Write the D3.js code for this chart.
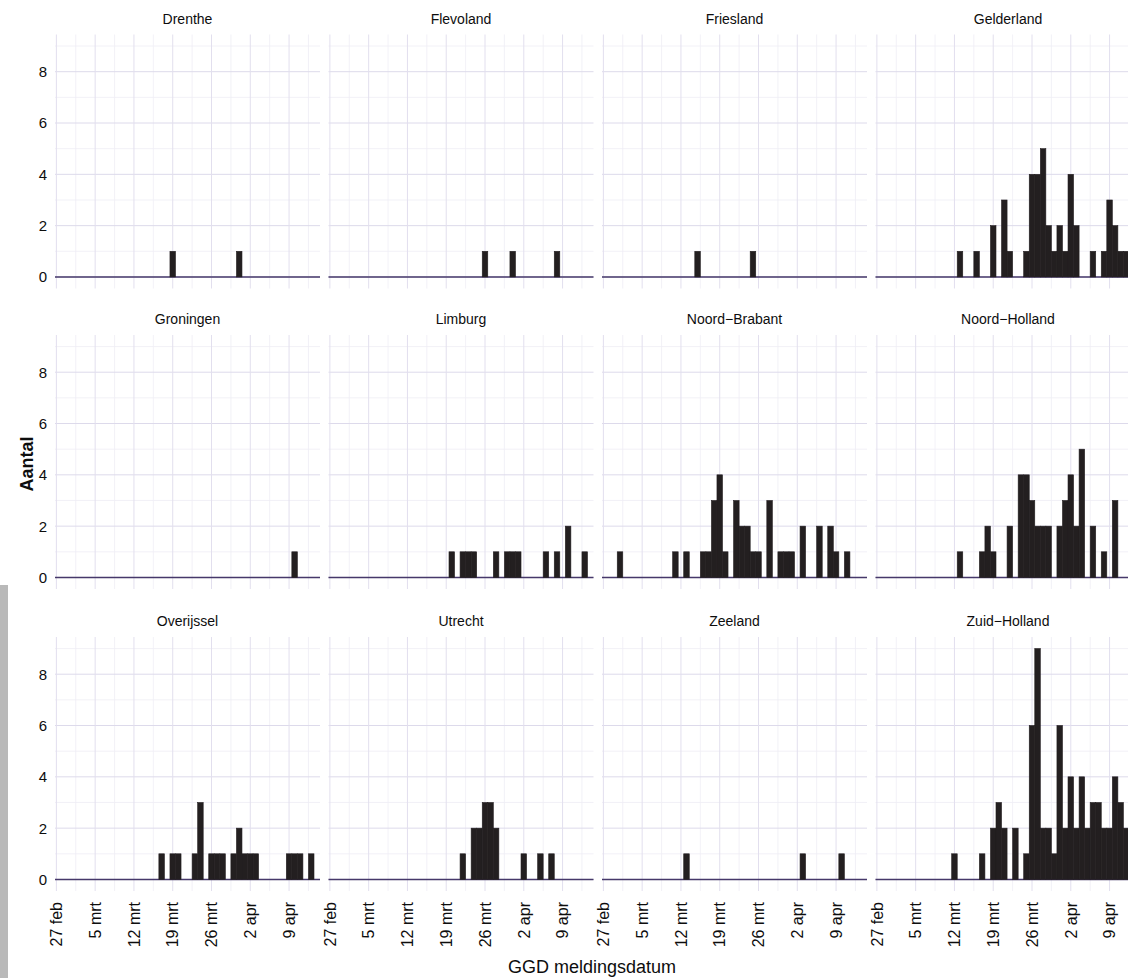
<!DOCTYPE html>
<html><head><meta charset="utf-8">
<script src="https://cdn.jsdelivr.net/npm/d3@7"></script>
<style>
body{margin:0;background:#fff;}
text{font-family:"Liberation Sans", Arial, Helvetica, sans-serif;fill:#0d0d0d;}
</style>
</head><body>
<svg id="chart" width="1128" height="978"></svg>
<script>
// ---------- data ----------
const regions = ["Drenthe","Flevoland","Friesland","Gelderland","Groningen","Limburg","Noord\u2212Brabant","Noord\u2212Holland","Overijssel","Utrecht","Zeeland","Zuid\u2212Holland"];

const drenthe = [["2020-03-19",1],["2020-03-31",1]];
const flevoland = [["2020-03-26",1],["2020-03-31",1],["2020-04-08",1]];
const friesland = [["2020-03-15",1],["2020-03-25",1]];
const gelderland = [["2020-03-13",1],["2020-03-16",1],["2020-03-19",2],["2020-03-21",3],["2020-03-22",1],["2020-03-25",1],["2020-03-26",4],["2020-03-27",4],["2020-03-28",5],["2020-03-29",2],["2020-03-30",1],["2020-03-31",2],["2020-04-01",1],["2020-04-02",4],["2020-04-03",2],["2020-04-06",1],["2020-04-08",1],["2020-04-09",3],["2020-04-10",2],["2020-04-11",1],["2020-04-12",1]];
const groningen = [["2020-04-10",1]];
const limburg = [["2020-03-20",1],["2020-03-22",1],["2020-03-23",1],["2020-03-24",1],["2020-03-28",1],["2020-03-30",1],["2020-03-31",1],["2020-04-01",1],["2020-04-06",1],["2020-04-08",1],["2020-04-10",2],["2020-04-13",1]];
const noordBrabant = [["2020-03-01",1],["2020-03-11",1],["2020-03-13",1],["2020-03-16",1],["2020-03-17",1],["2020-03-18",3],["2020-03-19",4],["2020-03-20",1],["2020-03-22",3],["2020-03-23",2],["2020-03-24",2],["2020-03-25",1],["2020-03-26",1],["2020-03-28",3],["2020-03-30",1],["2020-03-31",1],["2020-04-01",1],["2020-04-03",2],["2020-04-06",2],["2020-04-08",2],["2020-04-09",1],["2020-04-11",1]];
const noordHolland = [["2020-03-13",1],["2020-03-17",1],["2020-03-18",2],["2020-03-19",1],["2020-03-22",2],["2020-03-24",4],["2020-03-25",4],["2020-03-26",3],["2020-03-27",2],["2020-03-28",2],["2020-03-29",2],["2020-03-31",2],["2020-04-01",3],["2020-04-02",4],["2020-04-03",2],["2020-04-04",5],["2020-04-06",2],["2020-04-08",1],["2020-04-10",3]];
const overijssel = [["2020-03-17",1],["2020-03-19",1],["2020-03-20",1],["2020-03-23",1],["2020-03-24",3],["2020-03-26",1],["2020-03-27",1],["2020-03-28",1],["2020-03-30",1],["2020-03-31",2],["2020-04-01",1],["2020-04-02",1],["2020-04-03",1],["2020-04-09",1],["2020-04-10",1],["2020-04-11",1],["2020-04-13",1]];
const utrecht = [["2020-03-22",1],["2020-03-24",2],["2020-03-25",2],["2020-03-26",3],["2020-03-27",3],["2020-03-28",2],["2020-04-02",1],["2020-04-05",1],["2020-04-07",1]];
const zeeland = [["2020-03-13",1],["2020-04-03",1],["2020-04-10",1]];
const zuidHolland = [["2020-03-12",1],["2020-03-17",1],["2020-03-19",2],["2020-03-20",3],["2020-03-21",2],["2020-03-23",2],["2020-03-25",1],["2020-03-26",6],["2020-03-27",9],["2020-03-28",2],["2020-03-29",2],["2020-03-30",1],["2020-03-31",6],["2020-04-01",2],["2020-04-02",4],["2020-04-03",2],["2020-04-04",4],["2020-04-05",2],["2020-04-06",3],["2020-04-07",3],["2020-04-08",2],["2020-04-09",2],["2020-04-10",4],["2020-04-11",3],["2020-04-12",2]];

const series = [drenthe, flevoland, friesland, gelderland, groningen, limburg, noordBrabant, noordHolland, overijssel, utrecht, zeeland, zuidHolland];

const tickDates = ["2020-02-27","2020-03-05","2020-03-12","2020-03-19","2020-03-26","2020-04-02","2020-04-09"];
const tickLabels = ["27 feb","5 mrt","12 mrt","19 mrt","26 mrt","2 apr","9 apr"];
const yTicks = [0,2,4,6,8];
const yMinor = [1,3,5,7,9];

// ---------- layout ----------
const parse = d3.utcParse("%Y-%m-%d");
const W = 265, H = 254;
const colLeft = i => 55 + i*273.5;
const rowTops = [34.5, 335, 637];
const HALF = 12*3600*1000;

const svg = d3.select("#chart");
svg.append("rect").attr("width",1128).attr("height",978).attr("fill","#fff");
svg.append("rect").attr("x",0).attr("y",585).attr("width",8).attr("height",393).attr("fill","#b9b9b9");

const x = d3.scaleUtc()
  .domain([new Date(Date.UTC(2020,1,26,18)), new Date(Date.UTC(2020,3,14,14))])
  .range([0, W]);

const tickD = tickDates.map(parse);
const minorD = tickD.map(d => new Date(+d + 3.5*24*3600*1000)).filter(d => x(d) <= W);

series.forEach((data, i) => {
  const col = i % 4, row = Math.floor(i/4);
  const top = rowTops[row];
  const g = svg.append("g").attr("transform", `translate(${colLeft(col)},${top})`);
  const y = d3.scaleLinear().domain([-0.45, 9.45]).range([H, 0]);

  // minor grid
  g.selectAll(".hm").data(yMinor).join("line")
    .attr("x1",0).attr("x2",W).attr("y1",d=>y(d)).attr("y2",d=>y(d))
    .attr("stroke","#efedf5").attr("stroke-width",0.8);
  g.selectAll(".vm").data(minorD).join("line")
    .attr("y1",0).attr("y2",H).attr("x1",d=>x(d)).attr("x2",d=>x(d))
    .attr("stroke","#efedf5").attr("stroke-width",0.8);
  // major grid
  g.selectAll(".hM").data(yTicks).join("line")
    .attr("x1",0).attr("x2",W).attr("y1",d=>y(d)).attr("y2",d=>y(d))
    .attr("stroke","#dddaeb").attr("stroke-width",1);
  g.selectAll(".vM").data(tickD).join("line")
    .attr("y1",0).attr("y2",H).attr("x1",d=>x(d)).attr("x2",d=>x(d))
    .attr("stroke","#e2dfee").attr("stroke-width",1);

  // zero line
  g.append("line").attr("x1",0).attr("x2",W).attr("y1",y(0)).attr("y2",y(0))
    .attr("stroke","#46386a").attr("stroke-width",1.6);

  // bars
  g.selectAll(".bar").data(data).join("rect")
    .attr("x", d => x(new Date(+parse(d[0]) - HALF)))
    .attr("width", d => x(new Date(+parse(d[0]) + HALF)) - x(new Date(+parse(d[0]) - HALF)))
    .attr("y", d => y(d[1]))
    .attr("height", d => y(0) - y(d[1]))
    .attr("fill","#231f20").attr("stroke","#231f20").attr("stroke-width",0.6);

  // strip title
  g.append("text").attr("x", W/2).attr("y", -11).attr("text-anchor","middle")
    .attr("font-size","14px").text(regions[i]);

  // y tick labels
  if (col === 0) {
    g.selectAll(".yl").data(yTicks).join("text")
      .attr("x", -8).attr("y", d => y(d)).attr("dy","0.36em")
      .attr("text-anchor","end").attr("font-size","15px").text(d => d);
  }
  // x tick labels
  if (row === 2) {
    g.selectAll(".xl").data(tickD).join("text")
      .attr("transform", d => `translate(${x(d)},${H+11}) rotate(-90)`)
      .attr("dy","0.36em").attr("text-anchor","end").attr("font-size","16px")
      .text((d,k) => tickLabels[k]);
  }
});

// axis titles
svg.append("text").attr("transform","translate(33,464) rotate(-90)")
  .attr("text-anchor","middle").attr("font-size","18px").attr("font-weight","bold").text("Aantal");
svg.append("text").attr("x",592).attr("y",973).attr("text-anchor","middle")
  .attr("font-size","18px").text("GGD meldingsdatum");
</script>
</body></html>
